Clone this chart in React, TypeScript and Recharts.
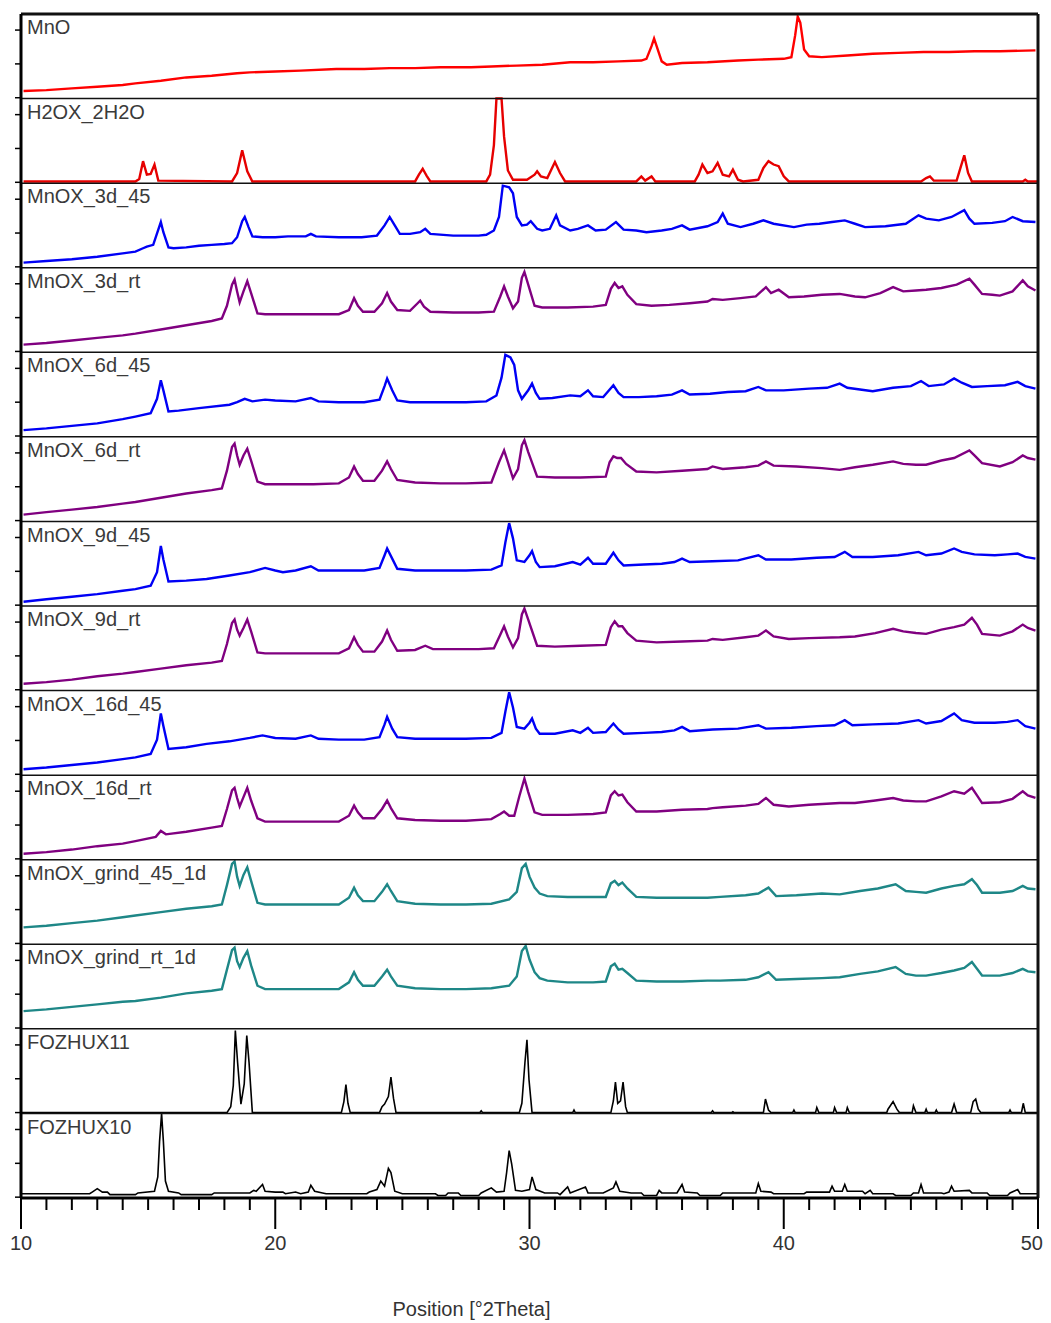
import React from "react";
import { LineChart, Line, XAxis, YAxis, ReferenceLine } from "recharts";

// each panel is 100 units tall, values are % of the panel height
const PANEL = 100;

const NAMES = [
  "MnO",
  "H2OX_2H2O",
  "MnOX_3d_45",
  "MnOX_3d_rt",
  "MnOX_6d_45",
  "MnOX_6d_rt",
  "MnOX_9d_45",
  "MnOX_9d_rt",
  "MnOX_16d_45",
  "MnOX_16d_rt",
  "MnOX_grind_45_1d",
  "MnOX_grind_rt_1d",
  "FOZHUX11",
  "FOZHUX10",
];

const COLORS = [
  "#ff0000",
  "#e60000",
  "#0000f5",
  "#800080",
  "#0000f5",
  "#800080",
  "#0000f5",
  "#800080",
  "#0000f5",
  "#800080",
  "#1e8787",
  "#1e8787",
  "#000000",
  "#000000",
];

const X_TICKS = Array.from({ length: 41 }, (_, i) => 10 + i);

const MNO = [
  [10.1, 9], [11, 10], [12, 12], [13, 14], [14, 16], [14.5, 18], [15.5, 21], [16.5, 25], [17.5, 27],
  [18.5, 30], [19, 31], [20, 32], [21, 33], [22.4, 35], [23.5, 35], [24.5, 36], [25.5, 36], [26.5, 37],
  [27.7, 37], [28.5, 38], [29.5, 39], [30.5, 40], [31.6, 43], [32.5, 43], [33.5, 44], [34.4, 45],
  [34.6, 47], [34.8, 62], [34.9, 71], [35.0, 62], [35.2, 44], [35.4, 40], [36, 42], [37, 43], [38.2, 45],
  [39, 46], [40, 47], [40.3, 49], [40.45, 75], [40.55, 97], [40.65, 90], [40.8, 58], [41, 50], [41.5, 49],
  [42.5, 51], [43.5, 53], [44.5, 54], [45.5, 55], [46.5, 55], [47.5, 56], [48.5, 56], [49.9, 57],
];

const H2OX = [
  [10.1, 2], [14.5, 2], [14.65, 5], [14.8, 26], [14.95, 10], [15.1, 11], [15.25, 22], [15.4, 3], [18.3, 2],
  [18.5, 12], [18.7, 39], [18.9, 14], [19.1, 2], [25.5, 2], [25.65, 10], [25.8, 17], [25.95, 9], [26.1, 2],
  [28.3, 2], [28.45, 10], [28.6, 45], [28.7, 100], [28.9, 100], [29.0, 55], [29.15, 15], [29.35, 4],
  [29.9, 4], [30.2, 10], [30.3, 14], [30.45, 8], [30.7, 6], [31.0, 25], [31.2, 12], [31.4, 2], [34.2, 2],
  [34.4, 8], [34.55, 3], [34.8, 8], [34.95, 2], [36.5, 2], [36.65, 10], [36.8, 22], [37.0, 12], [37.2, 14],
  [37.4, 24], [37.6, 10], [37.85, 8], [38.0, 16], [38.2, 4], [38.4, 2], [39.0, 4], [39.2, 18], [39.4, 26],
  [39.6, 22], [39.8, 20], [40.0, 8], [40.2, 2], [45.4, 2], [45.6, 6], [45.75, 8], [45.9, 3], [46.8, 3],
  [46.95, 18], [47.1, 33], [47.25, 12], [47.4, 2], [49.4, 2], [49.5, 4], [49.6, 2], [50, 2],
];

const MNOX_3D_45 = [
  [10.1, 6], [11, 8], [12, 10], [13, 13], [14, 17], [14.5, 19], [14.8, 23], [14.95, 25], [15.2, 27],
  [15.4, 45], [15.5, 54], [15.6, 42], [15.8, 24], [16, 23], [16.5, 24], [17, 26], [17.5, 27], [18, 28],
  [18.3, 29], [18.5, 36], [18.7, 55], [18.8, 60], [18.95, 48], [19.1, 37], [19.5, 36], [20, 36], [20.5, 37],
  [21.2, 37], [21.4, 40], [21.6, 37], [22.5, 36], [23.4, 36], [24.0, 38], [24.3, 50], [24.5, 60], [24.7, 50],
  [24.9, 40], [25.3, 40], [25.7, 42], [25.9, 46], [26.1, 40], [27, 38], [28.0, 38], [28.3, 39], [28.6, 44],
  [28.8, 60], [28.95, 97], [29.2, 95], [29.35, 88], [29.5, 60], [29.7, 50], [29.9, 51], [30.05, 55],
  [30.3, 46], [30.5, 44], [30.8, 46], [31.05, 62], [31.2, 50], [31.6, 44], [31.9, 46], [32.3, 50],
  [32.6, 44], [33.0, 45], [33.4, 54], [33.7, 45], [34.2, 44], [34.6, 42], [35.2, 44], [35.6, 46], [36.0, 50],
  [36.3, 45], [37.0, 49], [37.4, 54], [37.6, 64], [37.8, 52], [38.3, 48], [38.8, 52], [39.2, 56], [39.6, 52],
  [40.4, 48], [40.9, 51], [41.4, 52], [41.9, 54], [42.4, 56], [42.8, 52], [43.2, 48], [44, 49], [44.8, 52],
  [45.3, 62], [45.6, 58], [46.1, 56], [46.6, 60], [47.1, 68], [47.3, 58], [47.5, 52], [48.2, 53], [48.7, 55],
  [49.0, 60], [49.4, 55], [49.9, 54],
];

const MNOX_3D_RT = [
  [10.1, 9], [11, 11], [12, 14], [13, 17], [14, 20], [14.5, 22], [15.5, 27], [16.5, 32], [17.5, 37],
  [17.9, 40], [18.1, 55], [18.3, 80], [18.4, 86], [18.5, 72], [18.6, 59], [18.75, 72], [18.9, 84],
  [19.05, 70], [19.3, 46], [19.6, 45], [20.5, 45], [21.5, 45], [22.5, 45], [22.9, 50], [23.1, 64],
  [23.25, 55], [23.45, 48], [23.9, 48], [24.2, 58], [24.4, 70], [24.55, 60], [24.8, 50], [25.3, 49],
  [25.6, 58], [25.7, 61], [25.85, 54], [26.1, 48], [27, 47], [28, 47], [28.6, 48], [28.85, 66], [29.0, 78],
  [29.15, 66], [29.35, 52], [29.55, 60], [29.7, 88], [29.8, 95], [29.95, 80], [30.2, 55], [30.5, 53],
  [31.5, 53], [32.5, 54], [33.0, 56], [33.2, 75], [33.35, 82], [33.5, 76], [33.65, 78], [33.85, 68],
  [34.2, 57], [34.8, 55], [35.5, 56], [36.3, 58], [37.0, 60], [37.2, 63], [37.6, 62], [38.3, 64], [38.9, 66],
  [39.3, 77], [39.5, 70], [39.8, 74], [40.2, 65], [40.8, 66], [41.5, 68], [42.2, 69], [42.8, 66], [43.2, 65],
  [43.8, 70], [44.3, 77], [44.7, 72], [45.2, 73], [45.6, 74], [46.2, 76], [46.8, 80], [47.3, 87], [47.5, 80],
  [47.8, 69], [48.2, 68], [48.5, 67], [49.0, 72], [49.4, 85], [49.6, 78], [49.9, 73],
];

const MNOX_6D_45 = [
  [10.1, 8], [11, 10], [12, 13], [13, 16], [14, 21], [14.5, 24], [15.1, 28], [15.35, 45], [15.5, 67],
  [15.6, 55], [15.8, 30], [16.2, 31], [17, 34], [18.2, 38], [18.5, 41], [18.8, 45], [19.1, 42], [19.6, 44],
  [20, 43], [20.8, 42], [21.4, 46], [21.7, 42], [22.5, 41], [23.5, 41], [24.1, 44], [24.3, 60], [24.4, 69],
  [24.6, 55], [24.8, 43], [25.3, 41], [26.5, 41], [27.5, 41], [28.3, 42], [28.7, 49], [28.9, 70],
  [29.05, 97], [29.25, 94], [29.4, 85], [29.55, 55], [29.7, 45], [29.95, 55], [30.1, 63], [30.25, 52],
  [30.4, 45], [30.9, 46], [31.6, 49], [32.0, 48], [32.3, 55], [32.5, 48], [32.9, 47], [33.3, 61], [33.5, 52],
  [33.7, 47], [34.3, 47], [35.0, 48], [35.6, 50], [36.0, 55], [36.3, 50], [37.1, 51], [37.8, 53], [38.5, 54],
  [39.0, 59], [39.3, 55], [40.0, 55], [41.0, 57], [41.7, 58], [42.2, 63], [42.5, 58], [43.5, 54], [44.3, 58],
  [45.0, 60], [45.4, 66], [45.7, 60], [46.3, 62], [46.7, 69], [47.0, 64], [47.4, 59], [48.0, 60], [48.7, 61],
  [49.2, 65], [49.5, 60], [49.9, 57],
];

const MNOX_6D_RT = [
  [10.1, 8], [11, 11], [12, 14], [13, 17], [14, 21], [14.5, 23], [15.5, 28], [16.5, 33], [17.5, 37],
  [17.9, 39], [18.1, 60], [18.3, 88], [18.4, 92], [18.5, 78], [18.6, 67], [18.75, 78], [18.9, 86],
  [19.05, 72], [19.3, 47], [19.6, 44], [20.5, 44], [21.5, 44], [22.5, 45], [22.9, 52], [23.1, 65],
  [23.25, 56], [23.45, 48], [23.9, 48], [24.2, 60], [24.4, 71], [24.55, 62], [24.8, 49], [25.5, 46],
  [26.5, 45], [27.5, 45], [28.5, 46], [28.8, 70], [29.0, 84], [29.15, 70], [29.35, 51], [29.55, 62],
  [29.7, 90], [29.8, 96], [29.95, 82], [30.3, 53], [31.0, 52], [32.0, 52], [33.0, 53], [33.15, 70],
  [33.3, 77], [33.45, 75], [33.6, 75], [33.8, 68], [34.2, 59], [35, 58], [36, 60], [37.0, 62], [37.2, 65],
  [37.6, 62], [38.5, 64], [39.0, 66], [39.3, 71], [39.6, 66], [40.5, 65], [41.5, 63], [42.2, 61], [42.8, 64],
  [43.5, 67], [44.3, 71], [44.7, 68], [45.2, 67], [45.6, 67], [46.2, 72], [46.7, 75], [47.3, 84], [47.5, 78],
  [47.8, 69], [48.5, 65], [49.0, 70], [49.4, 78], [49.6, 75], [49.9, 73],
];

const MNOX_9D_45 = [
  [10.1, 5], [11, 8], [12, 11], [13, 14], [14, 18], [14.5, 20], [15.1, 24], [15.35, 40], [15.5, 71],
  [15.6, 55], [15.8, 29], [16.5, 30], [17.3, 32], [18.2, 36], [19.0, 40], [19.6, 45], [20.0, 42], [20.3, 40],
  [20.8, 42], [21.4, 47], [21.7, 42], [22.5, 42], [23.5, 42], [24.1, 45], [24.3, 60], [24.4, 68], [24.6, 56],
  [24.8, 44], [25.5, 42], [26.5, 42], [27.5, 42], [28.5, 43], [28.9, 48], [29.05, 75], [29.2, 98],
  [29.35, 80], [29.5, 54], [29.8, 52], [30.0, 60], [30.1, 65], [30.25, 52], [30.4, 46], [31.0, 47],
  [31.7, 52], [32.0, 49], [32.3, 57], [32.5, 50], [33.0, 50], [33.3, 63], [33.5, 54], [33.7, 48], [34.5, 49],
  [35.2, 50], [35.7, 52], [36.0, 56], [36.3, 52], [37.2, 53], [38.2, 54], [39.0, 60], [39.3, 55], [40.3, 55],
  [41.3, 57], [42.0, 58], [42.4, 64], [42.7, 58], [43.5, 58], [44.5, 60], [45.3, 64], [45.6, 60], [46.2, 62],
  [46.7, 68], [47.0, 64], [47.5, 61], [48.3, 60], [48.8, 61], [49.2, 62], [49.5, 58], [49.9, 56],
];

const MNOX_9D_RT = [
  [10.1, 8], [11, 10], [12, 13], [13, 17], [14, 20], [14.5, 22], [15.5, 26], [16.5, 30], [17.5, 33],
  [17.9, 35], [18.1, 55], [18.3, 80], [18.4, 84], [18.5, 72], [18.6, 65], [18.75, 74], [18.9, 84],
  [19.05, 70], [19.3, 45], [19.6, 44], [20.5, 44], [21.5, 44], [22.5, 44], [22.9, 50], [23.1, 63],
  [23.25, 54], [23.45, 46], [23.9, 46], [24.2, 58], [24.4, 71], [24.55, 60], [24.8, 47], [25.5, 48],
  [25.9, 53], [26.2, 49], [27, 49], [28, 49], [28.6, 50], [28.85, 66], [29.0, 76], [29.15, 64], [29.35, 51],
  [29.55, 62], [29.7, 90], [29.8, 97], [29.95, 84], [30.3, 53], [31, 52], [32, 53], [33.0, 54], [33.2, 75],
  [33.35, 82], [33.5, 76], [33.65, 76], [33.85, 68], [34.2, 59], [35, 57], [36, 58], [37.0, 59], [37.2, 61],
  [37.6, 60], [38.5, 63], [39.0, 65], [39.3, 71], [39.6, 64], [40.2, 61], [41.0, 62], [42.2, 63], [42.8, 64],
  [43.6, 68], [44.3, 73], [44.7, 70], [45.2, 68], [45.6, 67], [46.2, 72], [46.7, 75], [47.1, 78], [47.4, 86],
  [47.6, 78], [47.8, 67], [48.5, 65], [49.0, 70], [49.4, 78], [49.6, 74], [49.9, 71],
];

const MNOX_16D_45 = [
  [10.1, 7], [11, 9], [12, 12], [13, 15], [14, 19], [14.5, 21], [15.1, 25], [15.35, 42], [15.5, 73],
  [15.6, 58], [15.8, 31], [16.5, 33], [17.3, 37], [18.2, 40], [19.0, 44], [19.5, 47], [20.0, 44], [20.8, 43],
  [21.4, 47], [21.7, 43], [22.5, 42], [23.5, 42], [24.1, 45], [24.3, 60], [24.4, 69], [24.6, 55], [24.8, 45],
  [25.5, 43], [26.5, 43], [27.5, 43], [28.5, 44], [28.9, 50], [29.05, 75], [29.2, 98], [29.35, 80],
  [29.5, 57], [29.8, 55], [30.0, 62], [30.1, 67], [30.25, 55], [30.4, 49], [31.0, 49], [31.7, 53], [32.0, 50],
  [32.3, 56], [32.5, 50], [33.0, 51], [33.3, 61], [33.5, 54], [33.7, 49], [34.5, 50], [35.2, 51], [35.7, 53],
  [36.0, 57], [36.3, 52], [37.2, 54], [38.2, 55], [39.0, 59], [39.3, 55], [40.3, 56], [41.3, 58], [42.0, 59],
  [42.4, 65], [42.7, 59], [43.5, 60], [44.5, 61], [45.3, 65], [45.6, 61], [46.2, 64], [46.7, 73], [47.0, 65],
  [47.5, 62], [48.3, 62], [48.8, 63], [49.2, 65], [49.5, 58], [49.9, 55],
];

const MNOX_16D_RT = [
  [10.1, 7], [11, 9], [12, 12], [13, 16], [14, 19], [14.5, 22], [15.3, 27], [15.5, 34], [15.7, 30],
  [16.5, 33], [17.5, 38], [17.9, 40], [18.1, 60], [18.3, 82], [18.4, 85], [18.5, 73], [18.6, 63],
  [18.75, 74], [18.9, 85], [19.05, 70], [19.3, 49], [19.6, 45], [20.5, 45], [21.5, 45], [22.5, 45],
  [22.9, 52], [23.1, 64], [23.25, 56], [23.45, 49], [23.9, 49], [24.2, 60], [24.4, 70], [24.55, 61],
  [24.8, 49], [25.5, 47], [26.5, 46], [27.5, 46], [28.5, 48], [28.85, 54], [29.0, 57], [29.2, 52],
  [29.4, 52], [29.6, 75], [29.8, 96], [29.95, 80], [30.2, 56], [30.5, 53], [31.5, 53], [32.5, 54],
  [33.0, 56], [33.2, 76], [33.35, 81], [33.5, 76], [33.65, 77], [33.85, 68], [34.2, 57], [35, 57], [36, 59],
  [37.0, 60], [37.2, 61], [37.6, 62], [38.5, 64], [39.0, 66], [39.3, 73], [39.6, 65], [40.2, 63], [41.0, 65],
  [42.2, 67], [42.8, 67], [43.6, 70], [44.3, 73], [44.7, 70], [45.2, 69], [45.6, 69], [46.2, 75], [46.7, 81],
  [47.1, 78], [47.4, 85], [47.6, 76], [47.8, 67], [48.5, 68], [49.0, 72], [49.4, 81], [49.6, 76], [49.9, 73],
];

const MNOX_GRIND_45 = [
  [10.1, 20], [11, 22], [12, 25], [13, 28], [14, 32], [14.5, 34], [15.5, 38], [16.5, 42], [17.5, 45],
  [17.9, 47], [18.1, 70], [18.3, 95], [18.4, 98], [18.5, 80], [18.6, 69], [18.75, 82], [18.9, 91],
  [19.05, 75], [19.3, 49], [19.6, 47], [20.5, 47], [21.5, 47], [22.5, 47], [22.9, 55], [23.1, 67],
  [23.25, 58], [23.45, 51], [23.9, 51], [24.2, 62], [24.4, 71], [24.55, 63], [24.8, 51], [25.5, 48],
  [26.5, 47], [27.5, 47], [28.5, 48], [29.2, 53], [29.5, 62], [29.7, 90], [29.85, 95], [30.0, 80],
  [30.2, 67], [30.4, 60], [30.7, 57], [31.5, 56], [32.5, 56], [33.0, 56], [33.2, 72], [33.35, 75],
  [33.5, 70], [33.65, 73], [33.85, 66], [34.2, 56], [35, 55], [36, 55], [37.0, 55], [37.5, 56], [38.5, 58],
  [39.0, 60], [39.4, 67], [39.7, 57], [40.5, 58], [41.5, 60], [42.2, 59], [43.0, 63], [43.7, 66], [44.4, 71],
  [44.8, 63], [45.2, 62], [45.6, 61], [46.2, 66], [46.7, 69], [47.1, 71], [47.4, 77], [47.6, 70], [47.8, 61],
  [48.5, 61], [49.0, 63], [49.4, 69], [49.6, 66], [49.9, 65],
];

const MNOX_GRIND_RT = [
  [10.1, 21], [11, 23], [12, 26], [13, 29], [14, 32], [14.5, 33], [15.5, 37], [16.5, 42], [17.5, 45],
  [17.9, 47], [18.1, 70], [18.3, 93], [18.4, 96], [18.5, 80], [18.6, 73], [18.75, 84], [18.9, 92],
  [19.05, 75], [19.3, 51], [19.6, 47], [20.5, 47], [21.5, 47], [22.5, 47], [22.9, 55], [23.1, 67],
  [23.25, 58], [23.45, 51], [23.9, 51], [24.2, 62], [24.4, 70], [24.55, 62], [24.8, 51], [25.5, 48],
  [26.5, 47], [27.5, 47], [28.5, 48], [29.2, 51], [29.5, 62], [29.7, 92], [29.85, 98], [30.0, 82],
  [30.2, 67], [30.4, 60], [30.7, 57], [31.5, 55], [32.5, 55], [33.0, 56], [33.2, 74], [33.35, 77],
  [33.5, 70], [33.65, 71], [33.85, 66], [34.2, 57], [35, 56], [36, 56], [37.0, 57], [37.5, 57], [38.5, 58],
  [39.0, 61], [39.4, 67], [39.7, 58], [40.5, 59], [41.5, 60], [42.2, 61], [43.0, 65], [43.7, 68], [44.4, 73],
  [44.8, 65], [45.2, 63], [45.6, 63], [46.2, 66], [46.7, 69], [47.1, 72], [47.4, 79], [47.6, 71], [47.8, 63],
  [48.5, 63], [49.0, 66], [49.4, 71], [49.6, 68], [49.9, 67],
];

const FOZHUX11 = [
  [10, 1], [18.1, 1], [18.25, 8], [18.35, 33], [18.43, 98], [18.52, 60], [18.65, 11], [18.78, 35],
  [18.88, 92], [18.97, 60], [19.1, 1], [22.6, 1], [22.7, 14], [22.78, 34], [22.86, 12], [22.95, 1],
  [24.1, 1], [24.2, 8], [24.3, 11], [24.45, 20], [24.55, 43], [24.65, 18], [24.75, 1], [28.05, 1],
  [28.1, 3], [28.15, 1], [29.6, 1], [29.7, 12], [29.82, 60], [29.9, 87], [29.98, 40], [30.1, 1], [31.7, 1],
  [31.75, 4], [31.8, 1], [33.2, 1], [33.3, 15], [33.38, 37], [33.47, 12], [33.58, 15], [33.68, 37],
  [33.78, 8], [33.85, 1], [37.15, 1], [37.2, 3], [37.25, 1], [37.95, 1], [38.0, 2], [38.05, 1], [39.2, 1],
  [39.28, 17], [39.4, 4], [39.5, 1], [40.35, 1], [40.4, 4], [40.45, 1], [41.25, 1], [41.3, 7], [41.38, 1],
  [41.95, 1], [42.0, 7], [42.08, 1], [42.45, 1], [42.5, 7], [42.58, 1], [44.05, 1], [44.1, 5], [44.3, 14],
  [44.45, 5], [44.55, 1], [45.05, 1], [45.1, 9], [45.2, 1], [45.55, 1], [45.6, 5], [45.65, 1], [45.95, 1],
  [46.0, 4], [46.05, 1], [46.6, 1], [46.7, 11], [46.8, 1], [47.35, 1], [47.45, 14], [47.55, 17], [47.65, 5],
  [47.75, 1], [48.85, 1], [48.9, 4], [48.95, 1], [49.35, 1], [49.42, 12], [49.5, 1], [50, 1],
];

const FOZHUX10 = [
  [10, 5], [12.7, 5], [12.8, 7], [13.0, 11], [13.2, 7], [13.4, 7], [13.5, 4], [14.5, 4], [14.6, 6],
  [15.25, 8], [15.38, 25], [15.45, 67], [15.53, 100], [15.6, 67], [15.68, 20], [15.8, 8], [16.2, 6],
  [16.3, 4], [17.5, 4], [17.6, 6], [19.0, 6], [19.15, 9], [19.25, 8], [19.5, 16], [19.6, 8], [20.0, 7],
  [20.3, 7], [20.4, 5], [20.8, 7], [21.0, 5], [21.3, 7], [21.4, 15], [21.55, 8], [22.0, 5], [23.6, 5],
  [23.7, 7], [24.0, 10], [24.15, 20], [24.3, 14], [24.45, 35], [24.55, 30], [24.7, 8], [25.0, 5], [26.3, 5],
  [26.4, 3], [26.7, 3], [26.8, 6], [27.2, 6], [27.3, 3], [28.0, 3], [28.1, 6], [28.5, 12], [28.7, 7],
  [29.0, 8], [29.1, 30], [29.2, 56], [29.3, 40], [29.45, 9], [29.7, 8], [30.0, 10], [30.1, 25], [30.25, 10],
  [30.6, 6], [31.1, 6], [31.2, 4], [31.5, 13], [31.6, 6], [32.2, 13], [32.3, 6], [32.9, 6], [33.3, 12],
  [33.4, 19], [33.55, 8], [34.0, 6], [34.4, 6], [34.5, 3], [35.0, 3], [35.1, 9], [35.2, 6], [35.8, 6],
  [36.0, 16], [36.1, 7], [36.6, 6], [36.7, 3], [37.5, 3], [37.6, 6], [38.9, 6], [39.0, 17], [39.1, 8],
  [39.5, 7], [39.6, 5], [40.8, 5], [40.9, 7], [41.8, 7], [41.9, 14], [42.0, 8], [42.3, 8], [42.4, 16],
  [42.5, 8], [43.1, 8], [43.2, 5], [43.4, 9], [43.5, 5], [44.3, 5], [44.4, 3], [45.0, 3], [45.1, 6],
  [45.3, 6], [45.4, 16], [45.5, 6], [46.2, 6], [46.3, 5], [46.5, 7], [46.6, 14], [46.7, 8], [47.3, 9],
  [47.4, 6], [48.0, 6], [48.1, 3], [48.8, 3], [48.9, 6], [49.2, 10], [49.3, 5], [50, 5],
];

const SERIES = [
  MNO, H2OX, MNOX_3D_45, MNOX_3D_RT, MNOX_6D_45, MNOX_6D_RT, MNOX_9D_45, MNOX_9D_RT,
  MNOX_16D_45, MNOX_16D_RT, MNOX_GRIND_45, MNOX_GRIND_RT, FOZHUX11, FOZHUX10,
];

const N = NAMES.length;
const TOP = N * PANEL;

// panel i (0 = top) sits between (N-1-i)*PANEL and (N-i)*PANEL
const stacked = SERIES.map((pts, i) =>
  pts.map(([x, y]) => ({ x, y: (N - 1 - i) * PANEL + Math.min(y, PANEL) }))
);

const Y_TICKS = NAMES.flatMap((_, i) => {
  const base = (N - 1 - i) * PANEL;
  return [base + 1, base + 41, base + 81];
});

const FONT = "'Liberation Sans', Arial, sans-serif";

function XTick(props: any) {
  const { x, y, payload } = props;
  const major = payload.value % 10 === 0;
  // last label would run off the page edge, so it is right-aligned
  const last = payload.value === 50;
  return (
    <g>
      <line x1={x} y1={y} x2={x} y2={y + (major ? 31 : 12)} stroke="#000" strokeWidth={2} />
      {major && (
        <text
          x={last ? x + 5 : x}
          y={y + 52}
          textAnchor={last ? "end" : "middle"}
          fontSize={20}
          fill="#333"
          fontFamily={FONT}
        >
          {payload.value}
        </text>
      )}
    </g>
  );
}

export default function App() {
  return (
    <div style={{ width: 1035, height: 1313, fontFamily: FONT, background: "#fff" }}>
      <LineChart width={1035} height={1313} margin={{ top: 6, right: 5, bottom: 0, left: 1 }}>
        <XAxis
          type="number"
          dataKey="x"
          domain={[10, 50]}
          ticks={X_TICKS}
          interval={0}
          allowDataOverflow
          height={123}
          tickSize={0}
          tickMargin={0}
          tickLine={false}
          tick={(p: any) => <XTick {...p} />}
          axisLine={{ stroke: "#000", strokeWidth: 3 }}
          label={{
            value: "Position [°2Theta]",
            position: "insideBottom",
            offset: 5,
            dx: -58,
            fontSize: 20,
            fill: "#333",
            fontFamily: FONT,
          }}
        />
        <YAxis
          type="number"
          domain={[0, TOP]}
          ticks={Y_TICKS}
          interval={0}
          allowDataOverflow
          width={12}
          tickFormatter={() => ""}
          tickSize={6}
          tickMargin={0}
          tickLine={{ stroke: "#000", strokeWidth: 1.5 }}
          axisLine={{ stroke: "#000", strokeWidth: 3 }}
        />
        {stacked.map((data, i) => (
          <Line
            key={NAMES[i]}
            data={data}
            dataKey="y"
            type="linear"
            stroke={COLORS[i]}
            strokeWidth={i >= 12 ? 1.6 : 2.4}
            dot={false}
            activeDot={false}
            isAnimationActive={false}
          />
        ))}
        {NAMES.map((name, i) => (
          <ReferenceLine
            key={"sep" + i}
            y={(N - i) * PANEL}
            stroke="#111"
            strokeWidth={i === 0 ? 3 : 1.5}
            label={{
              value: name,
              position: "insideTopLeft",
              offset: 6,
              fontSize: 20,
              fill: "#3a3a3a",
              fontFamily: FONT,
            }}
          />
        ))}
        <ReferenceLine x={50} stroke="#111" strokeWidth={3} />
      </LineChart>
    </div>
  );
}
